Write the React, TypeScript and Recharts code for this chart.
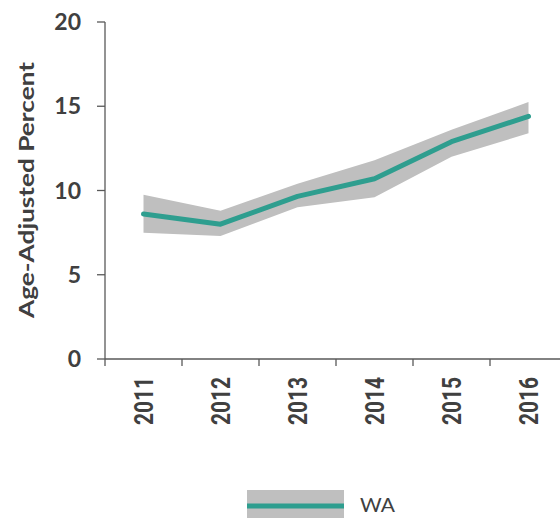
import React from 'react';
import { ComposedChart, Area, Line, XAxis, YAxis } from 'recharts';

const years = ['2011', '2012', '2013', '2014', '2015', '2016'];
const rate = [8.6, 8.0, 9.65, 10.7, 12.9, 14.4];
const lower = [7.5, 7.3, 9.0, 9.6, 12.0, 13.4];
const upper = [9.75, 8.8, 10.4, 11.8, 13.6, 15.25];
const yTicks = [0, 5, 10, 15, 20];
const seriesName = 'WA';
const yLabel = 'Age-Adjusted Percent';

const data = years.map((y, i) => ({
  pos: i + 0.5,
  year: y,
  rate: rate[i],
  range: [lower[i], upper[i]],
}));

const boundaryTicks = years.map((_, i) => i).concat([years.length]);
const centerTicks = years.map((_, i) => i + 0.5);
const xTicks = [...boundaryTicks, ...centerTicks].sort((a, b) => a - b);

const AXIS = '#595959';
const TEXT = '#404040';
const TEAL = '#2e9e8f';
const BAND = '#bfbfbf';

const XTick = (props: any) => {
  const { x, y, payload } = props;
  const v = payload.value as number;
  if (Number.isInteger(v)) {
    return <line x1={x} y1={y} x2={x} y2={y + 7} stroke={AXIS} strokeWidth={1.3} />;
  }
  const label = years[Math.floor(v)];
  return (
    <text
      x={x}
      y={y + 18}
      transform={`rotate(-90, ${x}, ${y + 18})`}
      textAnchor="end"
      dominantBaseline="central"
      fontFamily="Roboto, 'Liberation Sans', sans-serif"
      fontWeight={700}
      fontSize={26}
      textLength={48}
      lengthAdjust="spacingAndGlyphs"
      fill={TEXT}
    >
      {label}
    </text>
  );
};

export default function App() {
  return (
    <div style={{ position: 'absolute', left: 0, top: 0, width: 560, height: 519, overflow: 'hidden', background: '#fff' }}>
      <ComposedChart width={600} height={519} data={data} margin={{ top: 22, right: 33, bottom: 0, left: 0 }}>
        <XAxis
          dataKey="pos"
          type="number"
          domain={[0, years.length]}
          ticks={xTicks}
          interval={0}
          tickLine={false}
          tickSize={0}
          tickMargin={0}
          height={160}
          axisLine={{ stroke: AXIS, strokeWidth: 1.3 }}
          tick={<XTick />}
        />
        <YAxis
          type="number"
          domain={[0, 20]}
          ticks={yTicks}
          interval={0}
          width={105}
          tickSize={8}
          tickMargin={16}
          axisLine={{ stroke: AXIS, strokeWidth: 1.3 }}
          tickLine={{ stroke: AXIS, strokeWidth: 1.3 }}
          tick={{ fill: TEXT, fontSize: 23, fontWeight: 700, fontFamily: 'Lato, sans-serif' }}
        />
        <Area
          dataKey="range"
          type="linear"
          stroke="none"
          fill={BAND}
          fillOpacity={1}
          isAnimationActive={false}
        />
        <Line
          dataKey="rate"
          type="linear"
          stroke={TEAL}
          strokeWidth={5}
          strokeLinecap="round"
          strokeLinejoin="round"
          dot={false}
          activeDot={false}
          isAnimationActive={false}
        />
      </ComposedChart>
      <svg width={560} height={519} style={{ position: 'absolute', left: 0, top: 0, pointerEvents: 'none' }}>
        <text
          x={25}
          y={190}
          transform="rotate(-90, 25, 190)"
          textAnchor="middle"
          dominantBaseline="central"
          fontFamily="Lato, sans-serif"
          fontWeight={700}
          fontSize={21}
          textLength={256}
          lengthAdjust="spacingAndGlyphs"
          fill={TEXT}
        >
          {yLabel}
        </text>
        <rect x={247} y={490} width={97} height={28} fill={BAND} />
        <line x1={247} y1={506} x2={344} y2={506} stroke={TEAL} strokeWidth={5} />
        <text x={360} y={512} fontFamily="Lato, sans-serif" fontSize={20} textLength={35} lengthAdjust="spacingAndGlyphs" fill={TEXT}>
          {seriesName}
        </text>
      </svg>
    </div>
  );
}
